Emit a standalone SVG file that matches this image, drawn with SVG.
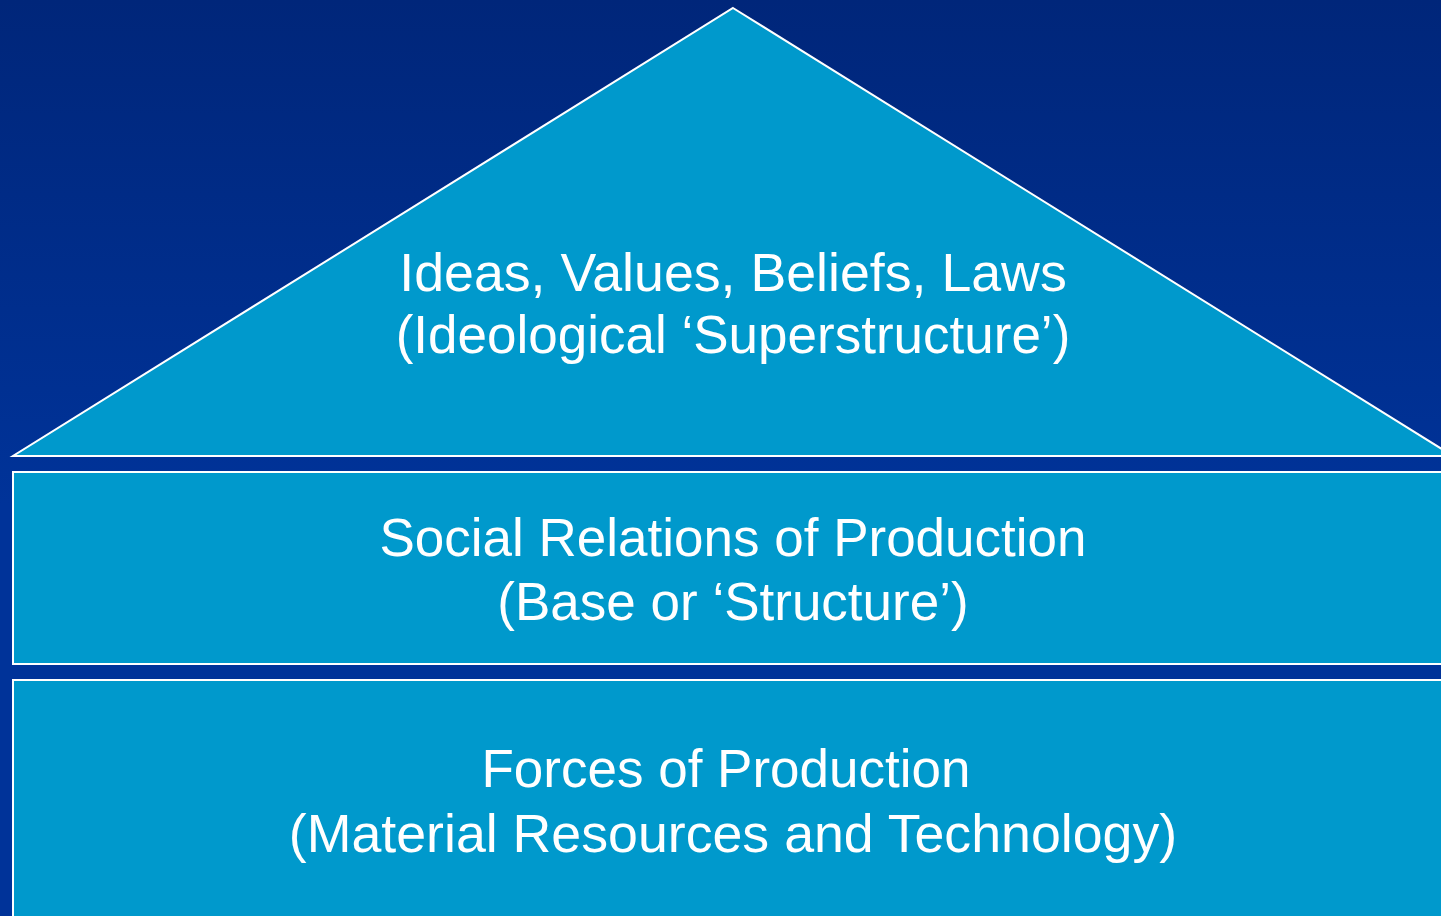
<svg xmlns="http://www.w3.org/2000/svg" width="1441" height="916" viewBox="0 0 1441 916">
  <defs>
    <linearGradient id="bg" x1="0" y1="0" x2="0" y2="1">
      <stop offset="0" stop-color="#00267a"/>
      <stop offset="0.55" stop-color="#003399"/>
      <stop offset="1" stop-color="#003399"/>
    </linearGradient>
  </defs>
  <style>
    .block { fill: #0099cc; stroke: #ffffff; stroke-width: 2; }
    .label { fill: #ffffff; font-family: "Liberation Sans", Arial, sans-serif; font-size: 53px; text-anchor: middle; }
    .wide { font-size: 53.7px; }
  </style>

  <!-- backdrop -->
  <rect x="0" y="0" width="1441" height="916" fill="url(#bg)"/>

  <!-- roof: ideological superstructure -->
  <g id="superstructure">
    <polygon class="block" points="733,8 1453,456 13,456"/>
    <text class="label wide" x="733" y="291">Ideas, Values, Beliefs, Laws</text>
    <text class="label" x="733" y="353">(Ideological ‘Superstructure’)</text>
  </g>

  <!-- middle tier: relations of production -->
  <g id="relations">
    <rect class="block" x="13" y="472" width="1450" height="192"/>
    <text class="label" x="733" y="556">Social Relations of Production</text>
    <text class="label" x="733" y="620">(Base or ‘Structure’)</text>
  </g>

  <!-- foundation: forces of production -->
  <g id="forces">
    <rect class="block" x="13" y="680" width="1450" height="260"/>
    <text class="label" x="726" y="787">Forces of Production</text>
    <text class="label wide" x="733" y="852">(Material Resources and Technology)</text>
  </g>

  <g id="connectors"/>
</svg>
